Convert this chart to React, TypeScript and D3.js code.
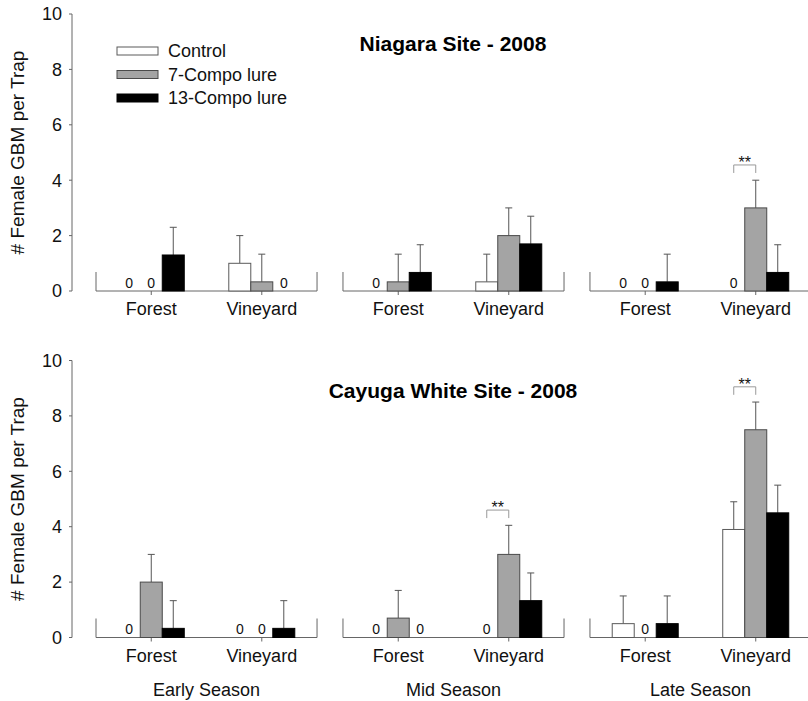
import React from "react";
import * as d3 from "d3";

const seasons = ["Early Season", "Mid Season", "Late Season"];
const sites = ["Forest", "Vineyard"];
const treatments = ["Control", "7-Compo lure", "13-Compo lure"];
const fills = ["#ffffff", "#a4a4a4", "#000000"];
const strokes = ["#5a5a5a", "#4a4a4a", "#000000"];

// rows: season x site (Early-Forest, Early-Vineyard, Mid-Forest, ...), cols: treatments
const niagaraMean = [
  [0, 0, 1.3], [1.0, 0.33, 0],
  [0, 0.33, 0.67], [0.33, 2.0, 1.7],
  [0, 0, 0.33], [0, 3.0, 0.67],
];
const niagaraErr = [
  [0, 0, 1.0], [1.0, 1.0, 0],
  [0, 1.0, 1.0], [1.0, 1.0, 1.0],
  [0, 0, 1.0], [0, 1.0, 1.0],
];
const niagaraSig = [5];

const cayugaMean = [
  [0, 2.0, 0.33], [0, 0, 0.33],
  [0, 0.7, 0], [0, 3.0, 1.33],
  [0.5, 0, 0.5], [3.9, 7.5, 4.5],
];
const cayugaErr = [
  [0, 1.0, 1.0], [0, 0, 1.0],
  [0, 1.0, 0], [0, 1.05, 1.0],
  [1.0, 0, 1.0], [1.0, 1.0, 1.0],
];
const cayugaSig = [3, 5];

const yTicks = [0, 2, 4, 6, 8, 10];

const FONT = "'Liberation Sans', Arial, Helvetica, sans-serif";
const AXIS = "#666";

const seasonX = d3.scaleBand().domain(seasons).range([96, 811]).paddingInner(0.105);
const siteX = d3.scalePoint().domain(sites).range([0, seasonX.bandwidth()]).padding(0.5);
const treatX = d3.scaleBand().domain(treatments).range([-33, 33]);

function Panel({ title, top, mean, err, sig, showLegend, showSeason }) {
  const y = d3.scaleLinear().domain([0, 10]).range([top + 277, top]);
  const y0 = y(0);
  const capH = 19;

  return (
    <g>
      {/* y axis */}
      <line x1={72} x2={72} y1={y(0)} y2={y(10)} stroke={AXIS} />
      {yTicks.map((t) => (
        <g key={t}>
          <line x1={69} x2={72} y1={y(t)} y2={y(t)} stroke={AXIS} />
          <text x={62} y={y(t)} dy="0.35em" textAnchor="end" fontSize={18} fill="#111">
            {t}
          </text>
        </g>
      ))}
      <text
        transform={`translate(24,${(y(0) + y(10)) / 2}) rotate(-90)`}
        textAnchor="middle"
        fontSize={19}
        fill="#111"
      >
        # Female GBM per Trap
      </text>

      <text x={453} y={top + 37} textAnchor="middle" fontSize={21} fontWeight="bold" fill="#000">
        {title}
      </text>

      {seasons.map((s, si) => {
        const left = seasonX(s);
        const right = left + seasonX.bandwidth();
        return (
          <g key={s}>
            <path
              d={`M${left},${y0 - capH}V${y0}H${right}V${y0 - capH}`}
              fill="none"
              stroke={AXIS}
            />
            {sites.map((site, ci) => {
              const cx = left + siteX(site);
              const row = si * 2 + ci;
              return (
                <g key={site}>
                  <line x1={cx} x2={cx} y1={y0} y2={y0 + 4} stroke={AXIS} />
                  <text x={cx} y={y0 + 24} textAnchor="middle" fontSize={18} fill="#111">
                    {site}
                  </text>
                  {treatments.map((t, ti) => {
                    const bx = cx + treatX(t);
                    const bw = treatX.bandwidth();
                    const v = mean[row][ti];
                    const e = err[row][ti];
                    const mid = bx + bw / 2;
                    if (v === 0) {
                      return (
                        <text key={t} x={mid} y={y0 - 3.5} textAnchor="middle" fontSize={14} fill="#111">
                          0
                        </text>
                      );
                    }
                    return (
                      <g key={t}>
                        {e > 0 && (
                          <g stroke="#555">
                            <line x1={mid} x2={mid} y1={y(v)} y2={y(v + e)} />
                            <line x1={mid - 3.5} x2={mid + 3.5} y1={y(v + e)} y2={y(v + e)} />
                          </g>
                        )}
                        <rect
                          x={bx}
                          y={y(v)}
                          width={bw}
                          height={y0 - y(v)}
                          fill={fills[ti]}
                          stroke={strokes[ti]}
                        />
                      </g>
                    );
                  })}
                  {sig.includes(row) && (() => {
                    const xa = cx + treatX(treatments[0]) + treatX.bandwidth() / 2;
                    const xb = cx + treatX(treatments[1]) + treatX.bandwidth() / 2;
                    const yb = y(mean[row][1] + err[row][1] + 0.55);
                    return (
                      <g>
                        <path
                          d={`M${xa},${yb + 8}V${yb}H${xb}V${yb + 8}`}
                          fill="none"
                          stroke="#999"
                        />
                        <text x={(xa + xb) / 2} y={yb + 3} textAnchor="middle" fontSize={16} fill="#111">
                          **
                        </text>
                      </g>
                    );
                  })()}
                </g>
              );
            })}
            {showSeason && (
              <text x={(left + right) / 2} y={696} textAnchor="middle" fontSize={18} fill="#111">
                {s}
              </text>
            )}
          </g>
        );
      })}

      {showLegend &&
        treatments.map((t, i) => (
          <g key={t} transform={`translate(117,${top + 37 + i * 23.5})`}>
            <rect x={0} y={-4} width={41} height={8} fill={fills[i]} stroke={strokes[i]} />
            <text x={51} y={0} dy="0.35em" fontSize={18} fill="#111">
              {t}
            </text>
          </g>
        ))}
    </g>
  );
}

export default function App() {
  return (
    <svg
      width={808}
      height={701}
      style={{ position: "absolute", left: 0, top: 0, background: "#fff" }}
      fontFamily={FONT}
    >
      <rect width={808} height={701} fill="#fff" />
      <Panel
        title="Niagara Site - 2008"
        top={14}
        mean={niagaraMean}
        err={niagaraErr}
        sig={niagaraSig}
        showLegend={true}
        showSeason={false}
      />
      <Panel
        title="Cayuga White Site - 2008"
        top={360.5}
        mean={cayugaMean}
        err={cayugaErr}
        sig={cayugaSig}
        showLegend={false}
        showSeason={true}
      />
    </svg>
  );
}
